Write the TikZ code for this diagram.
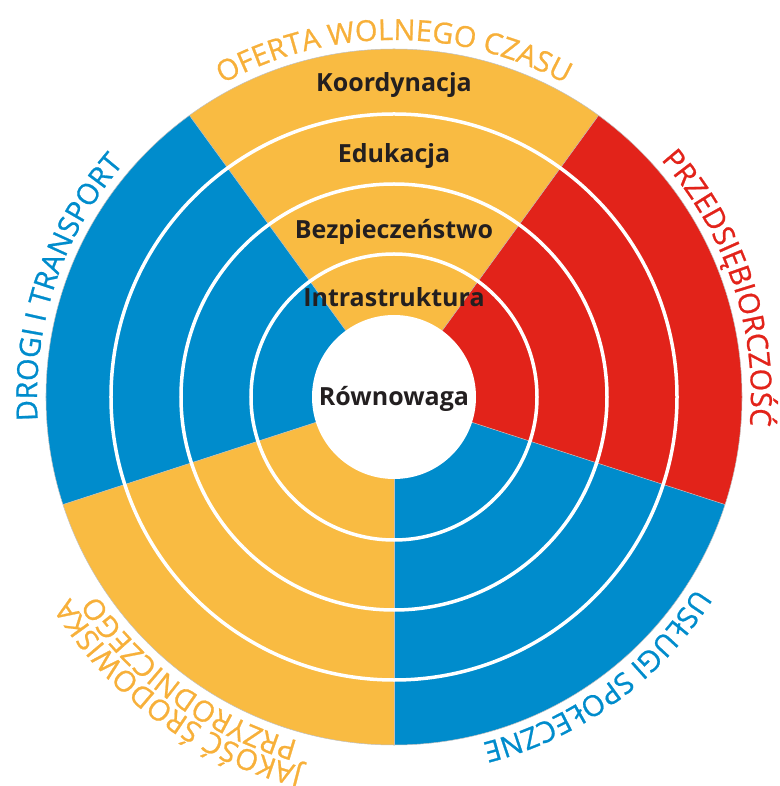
\documentclass[tikz,border=0pt]{standalone}
\usepackage{fontspec}
\setmainfont{Open Sans}
\newfontfamily\curvefam[FakeBold=0.8]{Open Sans}
\usetikzlibrary{decorations.text}
\definecolor{corange}{HTML}{F9BB42}
\definecolor{corangetext}{HTML}{F7B03A}
\definecolor{cblue}{HTML}{008CCC}
\definecolor{cred}{HTML}{E2231A}
\definecolor{ctext}{HTML}{231F20}
\newcommand\boldlbl{\fontsize{25}{30}\selectfont\bfseries}
\newcommand\curvelbl{\curvefam\fontsize{29}{34}\selectfont}
\begin{document}
\begin{tikzpicture}[x=1pt,y=1pt,
  seg/.style={fill=#1},
  edgeline/.style={draw=white!75!black, line width=0.5pt},
  ringline/.style={draw=white, line width=3.5pt},
  inlabel/.style={font=\boldlbl, text=ctext, anchor=base, inner sep=0pt},
  curvetext/.style n args={2}{decorate, decoration={text along path, text align=center, text color=#1, text={|\curvelbl|#2}}}
]
\useasboundingbox (-394,-389) rectangle (385,397);
% sectors
\foreach \a/\c in {54/corange,126/cblue,198/corange,270/cblue,342/cred}{
  \fill[seg=\c] (0,0) -- (\a:348) arc[start angle=\a, end angle=\a+72, radius=348] -- cycle;
}
\draw[edgeline] (0,0) circle[radius=348];
\foreach \a in {54,126,198,270,342}{
  \draw[edgeline] (\a:82) -- (\a:348);
}
% rings
\draw[ringline] (0,0) circle[radius=143];
\draw[ringline] (0,0) circle[radius=213];
\draw[ringline] (0,0) circle[radius=283];
\fill[white] (0,0) circle[radius=82];
% inner labels
\node[inlabel] (koord) at (0,305) {Koordynacja};
\node[inlabel] (eduk) at (0,234.5) {Edukacja};
\node[inlabel] (bezp) at (0,158) {Bezpieczeństwo};
\node[inlabel] (infra) at (0,90.5) {Intrastruktura};
\node[inlabel] (rown) at (0,-9) {Równowaga};
% curved labels
\path[curvetext={corangetext}{OFERTA WOLNEGO CZASU}] (140:357) arc[start angle=140, end angle=40, radius=357];
\path[curvetext={cred}{PRZEDSIĘBIORCZOŚĆ}] (68.5:357) arc[start angle=68.5, end angle=-31.5, radius=357];
\path[curvetext={cblue}{USŁUGI SPOŁECZNE}] (-4:357) arc[start angle=-4, end angle=-104, radius=357];
\path[curvetext={corangetext}{PRZYRODNICZEGO}] (284:357) arc[start angle=284, end angle=184, radius=357];
\path[curvetext={corangetext}{JAKOŚĆ ŚRODOWISKA}] (284:381) arc[start angle=284, end angle=184, radius=381];
\path[curvetext={cblue}{DROGI I TRANSPORT}] (211.5:357) arc[start angle=211.5, end angle=111.5, radius=357];
\end{tikzpicture}
\end{document}
